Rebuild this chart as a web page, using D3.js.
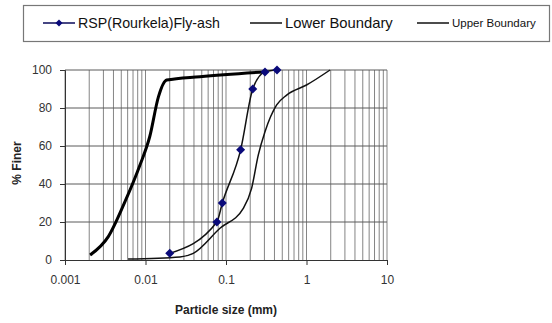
<!DOCTYPE html>
<html>
<head>
<meta charset="utf-8">
<script src="https://cdn.jsdelivr.net/npm/d3@7"></script>
<style>
  body { margin: 0; background: #fff; }
  svg { font-family: "Liberation Sans", Arial, sans-serif; }
</style>
</head>
<body>
<div id="chart"></div>
<script>
// particle size (mm) and % finer
const flyAshSize = [0.02, 0.077, 0.09, 0.152, 0.215, 0.305, 0.43]
const flyAshFiner = [3.5, 20, 30, 58, 90, 99, 100]

const lowerSize = [0.00205, 0.00345, 0.00556, 0.00854, 0.0113, 0.0145, 0.0183, 0.0475, 0.305]
const lowerFiner = [2.6, 12.3, 30.7, 50, 65, 86, 94.7, 96.5, 99]

const upperSize = [0.00607, 0.0268, 0.0392, 0.0841, 0.164, 0.208, 0.252, 0.305, 0.426, 0.567, 1.0, 1.96]
const upperFiner = [0.5, 1.6, 3.5, 16.7, 27.2, 37.7, 55.3, 67.5, 81.6, 86.8, 92.1, 100]

const xTicks = [0.001, 0.01, 0.1, 1, 10]
const xTickLabels = ['0.001', '0.01', '0.1', '1', '10']
const yTicks = [0, 20, 40, 60, 80, 100]

const W = 552, H = 323
const svg = d3.select('#chart').append('svg')
  .attr('width', W).attr('height', H)

const x = d3.scaleLog().domain([0.001, 10]).range([65, 387])
const y = d3.scaleLinear().domain([0, 100]).range([260, 70])

// minor log grid
let minor = []
for (let k = -3; k <= 0; k++) {
  for (let m = 1; m <= 9; m++) minor.push(m * Math.pow(10, k))
}
minor.push(10)

const grid = svg.append('g')
grid.selectAll('line.v').data(minor).enter().append('line')
  .attr('x1', d => x(d)).attr('x2', d => x(d))
  .attr('y1', y(0)).attr('y2', y(100))
  .attr('stroke', '#858585').attr('stroke-width', 1)
grid.selectAll('line.h').data(yTicks.filter(d => d > 0)).enter().append('line')
  .attr('x1', x(0.001)).attr('x2', x(10))
  .attr('y1', d => y(d)).attr('y2', d => y(d))
  .attr('stroke', '#5a5a5a').attr('stroke-width', 1)

// axes
const xAxis = svg.append('g')
  .attr('transform', `translate(0,${y(0)})`)
  .call(d3.axisBottom(x).tickValues(xTicks).tickFormat((d, i) => xTickLabels[i]).tickSize(5).tickPadding(10))
const yAxis = svg.append('g')
  .attr('transform', `translate(${x(0.001)},0)`)
  .call(d3.axisLeft(y).tickValues(yTicks).tickSize(5).tickPadding(8))
;[xAxis, yAxis].forEach(a => {
  a.select('.domain').attr('stroke', '#333')
  a.selectAll('.tick line').attr('stroke', '#333')
  a.selectAll('text').attr('font-size', 12).attr('fill', '#333')
    .attr('font-family', '"Liberation Sans", Arial, sans-serif')
})

svg.append('text')
  .attr('x', 226).attr('y', 314)
  .attr('text-anchor', 'middle')
  .attr('font-size', 12).attr('font-weight', 'bold').attr('fill', '#222')
  .text('Particle size (mm)')

svg.append('text')
  .attr('transform', 'translate(21,163) rotate(-90)')
  .attr('text-anchor', 'middle')
  .attr('font-size', 12).attr('font-weight', 'bold').attr('fill', '#222')
  .text('% Finer')

// curves
const line = d3.line()
  .x(d => x(d[0])).y(d => y(d[1]))
  .curve(d3.curveMonotoneX)

const zip = (a, b) => a.map((v, i) => [v, b[i]])

svg.append('path').datum(zip(lowerSize, lowerFiner))
  .attr('d', line).attr('fill', 'none')
  .attr('stroke', '#000').attr('stroke-width', 3)

svg.append('path').datum(zip(upperSize, upperFiner))
  .attr('d', line).attr('fill', 'none')
  .attr('stroke', '#111').attr('stroke-width', 1.5)

const flyAsh = zip(flyAshSize, flyAshFiner)
svg.append('path').datum(flyAsh)
  .attr('d', line).attr('fill', 'none')
  .attr('stroke', '#111').attr('stroke-width', 1.5)

// square diamond marker like Excel's
const diamond = 'M0,-4.5L4.5,0L0,4.5L-4.5,0Z'
svg.selectAll('path.pt').data(flyAsh).enter().append('path')
  .attr('class', 'pt')
  .attr('d', diamond)
  .attr('transform', d => `translate(${x(d[0])},${y(d[1])})`)
  .attr('fill', '#0a0a7a')

// legend
const lg = svg.append('g')
lg.append('rect')
  .attr('x', 23.5).attr('y', 5.5).attr('width', 526).attr('height', 36)
  .attr('fill', '#fff').attr('stroke', '#777').attr('stroke-width', 1.2)

const legendItems = [
  {name: 'RSP(Rourkela)Fly-ash', x1: 43, size: 14.2, marker: true},
  {name: 'Lower Boundary', x1: 250, size: 14.8, marker: false},
  {name: 'Upper Boundary', x1: 417, size: 11.5, marker: false}
]
legendItems.forEach(it => {
  lg.append('line')
    .attr('x1', it.x1).attr('x2', it.x1 + 32)
    .attr('y1', 23).attr('y2', 23)
    .attr('stroke', it.marker ? '#0a0a5a' : '#111').attr('stroke-width', 1.5)
  if (it.marker) {
    lg.append('path').attr('d', 'M0,-3.5L3.5,0L0,3.5L-3.5,0Z')
      .attr('transform', `translate(${it.x1 + 16},23)`)
      .attr('fill', '#0a0a7a')
  }
  lg.append('text')
    .attr('x', it.x1 + 35).attr('y', 23)
    .attr('dy', '0.35em')
    .attr('font-size', it.size).attr('fill', '#111')
    .text(it.name)
})
</script>
</body>
</html>
